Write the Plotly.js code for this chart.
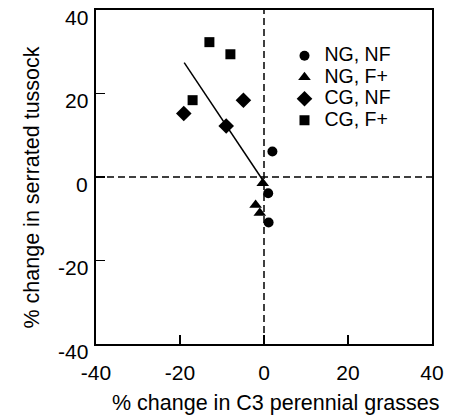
<!DOCTYPE html>
<html>
<head>
<meta charset="utf-8">
<script src="https://cdn.plot.ly/plotly-3.0.1.min.js"></script>
<style>html,body{margin:0;padding:0;background:#fff;}#chart{width:463px;height:418px;}</style>
</head>
<body>
<div id="chart"></div>
<script>
// Data
const ngnfX = [2.0, 1.0, 1.1];
const ngnfY = [6.1, -3.9, -10.9];
const ngfX = [-0.3, -2.0, -1.0];
const ngfY = [-1.5, -6.7, -8.6];
const cgnfX = [-19.1, -4.9, -9.0];
const cgnfY = [15.2, 18.4, 12.2];
const cgfX = [-13.0, -8.0, -17.0];
const cgfY = [32.3, 29.4, 18.4];
const fitX = [-19.0, 0.2];
const fitY = [27.4, -1.5];
const seriesNames = ['NG, NF', 'NG, F+', 'CG, NF', 'CG, F+'];
const tickVals = [-40, -20, 0, 20, 40];
const tickText = ['-40', '-20', '0', '20', '40'];
const xTitle = '% change in C3 perennial grasses';
const yTitle = '% change in serrated tussock';

const fam = 'Liberation Sans, Arial, Helvetica, sans-serif';
const tickFont = {family: fam, size: 21, color: '#000'};
const titleFont = {family: fam, size: 21.5, color: '#000'};
const legName = s => '<span style="font-size:19.5px">' + s + '</span>';

const traces = [
  {x: ngnfX, y: ngnfY, name: legName(seriesNames[0]), mode: 'markers', type: 'scatter',
   marker: {symbol: 'circle', size: 10, color: '#000'}},
  {x: ngfX, y: ngfY, name: legName(seriesNames[1]), mode: 'markers', type: 'scatter',
   marker: {symbol: 'triangle-up', size: 11, color: '#000'}},
  {x: cgnfX, y: cgnfY, name: legName(seriesNames[2]), mode: 'markers', type: 'scatter',
   marker: {symbol: 'diamond', size: 12, color: '#000'}},
  {x: cgfX, y: cgfY, name: legName(seriesNames[3]), mode: 'markers', type: 'scatter',
   marker: {symbol: 'square', size: 10, color: '#000'}},
  {x: fitX, y: fitY, mode: 'lines', type: 'scatter', showlegend: false,
   line: {color: '#000', width: 1.5}, hoverinfo: 'skip'}
];

// y tick labels as annotations (sit slightly below their ticks, as in the reference)
const yTickAnns = tickVals.map((v, i) => ({
  xref: 'paper', yref: 'y', x: 0, y: v, xanchor: 'right', yanchor: 'middle',
  xshift: -6, yshift: -7, text: tickText[i], showarrow: false, font: tickFont
}));

const titleAnns = [
  {xref: 'paper', yref: 'paper', x: 0.5357, y: -0.178, xanchor: 'center', yanchor: 'middle',
   text: xTitle, showarrow: false, font: titleFont},
  {xref: 'paper', yref: 'paper', x: -0.1905, y: 0.4686, xanchor: 'center', yanchor: 'middle',
   text: yTitle, textangle: -90, showarrow: false, font: titleFont}
];

const layout = {
  width: 463, height: 418,
  margin: {l: 96, r: 31, t: 10, b: 74},
  paper_bgcolor: '#fff', plot_bgcolor: '#fff',
  font: tickFont,
  showlegend: true,
  legend: {x: 0.561, y: 0.91, xanchor: 'left', yanchor: 'top',
           font: {family: fam, size: 14.2, color: '#000'}, bgcolor: 'rgba(0,0,0,0)',
           tracegroupgap: 0, itemwidth: 30},
  xaxis: {range: [-40, 40], tickvals: tickVals, ticktext: tickText,
          showgrid: false, zeroline: false, showline: true, mirror: true,
          linecolor: '#000', linewidth: 2, ticks: 'inside', ticklen: 9, tickwidth: 1.5,
          tickcolor: '#000', tickfont: tickFont, ticklabelstandoff: 9,
          ticklabeloverflow: 'allow'},
  yaxis: {range: [-40, 40], tickvals: tickVals,
          showgrid: false, zeroline: false, showline: true, mirror: true,
          linecolor: '#000', linewidth: 2, ticks: 'inside', ticklen: 9, tickwidth: 1.5,
          tickcolor: '#000', showticklabels: false},
  annotations: yTickAnns.concat(titleAnns),
  shapes: [
    {type: 'line', xref: 'x', yref: 'paper', x0: 0, x1: 0, y0: 0, y1: 1,
     line: {color: '#000', width: 1.5, dash: '7px,4px'}},
    {type: 'line', xref: 'paper', yref: 'y', x0: 0, x1: 1, y0: 0, y1: 0,
     line: {color: '#000', width: 1.5, dash: '7px,4px'}}
  ]
};

Plotly.newPlot('chart', traces, layout, {displayModeBar: false, staticPlot: true});
</script>
</body>
</html>
